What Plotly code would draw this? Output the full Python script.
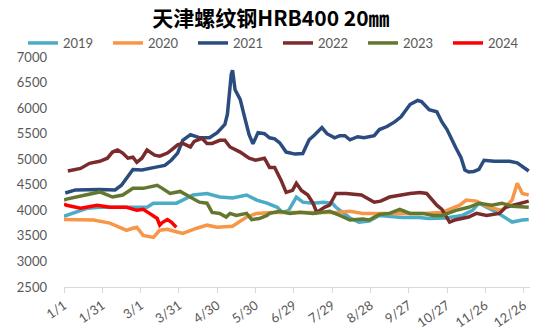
import plotly.graph_objects as go

# Day-of-year offsets (from 1/1) and prices (yuan/t) for each year
days_2019 = [0, 2, 18, 28, 54, 65, 70, 88, 93, 101, 112, 122, 132, 143, 151, 159, 167, 171, 176, 182, 187, 195, 203, 210, 213, 224, 231, 239, 247, 265, 278, 286, 299, 312, 320, 325, 339, 343, 351, 359, 364]
vals_2019 = [3880, 3900, 4040, 4060, 4060, 4060, 4140, 4140, 4200, 4300, 4330, 4260, 4240, 4300, 4200, 4140, 4060, 3960, 4000, 4260, 4160, 4140, 4160, 4140, 4060, 3850, 3770, 3790, 3900, 3860, 3860, 3840, 3850, 3900, 4000, 4140, 3960, 3900, 3770, 3810, 3820]

days_2020 = [0, 23, 36, 49, 54, 57, 62, 70, 75, 81, 85, 93, 104, 112, 120, 132, 143, 151, 163, 175, 187, 213, 224, 234, 247, 265, 281, 296, 310, 315, 323, 333, 343, 351, 355, 359, 364]
vals_2020 = [3820, 3810, 3750, 3610, 3650, 3670, 3510, 3470, 3610, 3630, 3600, 3550, 3650, 3710, 3670, 3690, 3870, 3940, 3960, 3960, 3950, 3960, 3980, 3940, 3940, 3940, 3940, 3960, 4100, 4200, 4180, 4060, 4000, 4200, 4530, 4330, 4300]

days_2021 = [1, 9, 28, 40, 45, 49, 54, 61, 69, 73, 79, 84, 89, 93, 99, 106, 114, 120, 126, 128, 131, 132, 134, 138, 142, 145, 148, 152, 157, 161, 165, 169, 174, 181, 187, 192, 196, 200, 202, 206, 212, 216, 220, 224, 230, 235, 243, 247, 253, 259, 264, 271, 277, 280, 282, 286, 292, 296, 300, 303, 307, 311, 314, 317, 321, 325, 329, 337, 349, 355, 360, 364]
vals_2021 = [4340, 4400, 4410, 4400, 4490, 4630, 4800, 4790, 4820, 4850, 4880, 4980, 5120, 5370, 5480, 5420, 5420, 5520, 5680, 5880, 6660, 6740, 6360, 6170, 5770, 5480, 5300, 5520, 5500, 5420, 5400, 5320, 5140, 5100, 5110, 5380, 5470, 5580, 5620, 5500, 5420, 5460, 5460, 5380, 5440, 5420, 5460, 5580, 5640, 5730, 5830, 6070, 6150, 6130, 6070, 5970, 5930, 5730, 5580, 5440, 5220, 5030, 4790, 4750, 4760, 4800, 4980, 4960, 4960, 4930, 4830, 4770]

days_2022 = [3, 13, 20, 28, 34, 38, 42, 46, 50, 54, 57, 61, 65, 67, 71, 75, 81, 84, 89, 93, 99, 102, 108, 112, 116, 122, 126, 130, 138, 145, 150, 157, 161, 165, 170, 174, 179, 182, 186, 191, 195, 198, 204, 208, 213, 221, 233, 243, 248, 255, 263, 271, 279, 284, 292, 296, 302, 306, 317, 323, 331, 341, 346, 359, 364]
vals_2022 = [4770, 4820, 4920, 4960, 5020, 5140, 5180, 5120, 5020, 5040, 4940, 5020, 5180, 5140, 5080, 5060, 5120, 5180, 5280, 5310, 5240, 5350, 5410, 5310, 5310, 5370, 5370, 5240, 5140, 5020, 4980, 5020, 4840, 4840, 4590, 4350, 4390, 4530, 4390, 4300, 4140, 3960, 4060, 4100, 4330, 4330, 4300, 4160, 4180, 4260, 4300, 4330, 4350, 4330, 4100, 4020, 3770, 3810, 3870, 3940, 3900, 3940, 4060, 4140, 4180]

days_2023 = [0, 2, 28, 38, 46, 54, 62, 73, 77, 83, 91, 99, 106, 112, 116, 122, 127, 130, 135, 143, 147, 153, 159, 161, 167, 169, 177, 185, 195, 208, 216, 224, 234, 239, 247, 255, 263, 271, 281, 289, 296, 307, 317, 325, 335, 343, 351, 364]
vals_2023 = [4200, 4220, 4360, 4260, 4300, 4430, 4430, 4490, 4430, 4330, 4370, 4260, 4160, 4140, 3960, 3940, 3870, 3940, 3900, 3940, 3820, 3840, 3900, 3940, 3960, 3980, 3940, 3960, 3940, 3980, 3900, 3810, 3830, 3810, 3920, 3940, 4020, 3940, 3940, 3900, 3900, 4000, 4060, 4140, 4100, 4140, 4080, 4060]

days_2024 = [0, 2, 13, 26, 36, 49, 57, 62, 67, 73, 75, 77, 81, 84, 88]
vals_2024 = [4120, 4100, 4040, 4100, 4060, 4060, 4000, 4020, 3940, 3840, 3710, 3760, 3820, 3770, 3670]

tick_days = [0, 30, 60, 90, 120, 150, 180, 210, 240, 270, 300, 330, 360]
tick_text = ["1/1", "1/31", "3/1", "3/31", "4/30", "5/30", "6/29", "7/29", "8/28", "9/27", "10/27", "11/26", "12/26"]
y_ticks = [2500, 3000, 3500, 4000, 4500, 5000, 5500, 6000, 6500, 7000]

series = [
    ("2019", days_2019, vals_2019, "#4BACC6"),
    ("2020", days_2020, vals_2020, "#F79646"),
    ("2021", days_2021, vals_2021, "#2B4C7E"),
    ("2022", days_2022, vals_2022, "#7A2B2B"),
    ("2023", days_2023, vals_2023, "#62782F"),
    ("2024", days_2024, vals_2024, "#FF0000"),
]

tick_font = dict(family="Lato, 'Liberation Sans', sans-serif", size=13, color="#595959")

fig = go.Figure()
legend_layout = {}
for i, (name, d, v, color) in enumerate(series):
    key = "legend" if i == 0 else f"legend{i + 1}"
    fig.add_trace(go.Scatter(x=d, y=v, name=name, mode="lines", legend=key,
                             line=dict(color=color, width=3.5)))
    # one legend box per year, laid out in a single row above the plot
    legend_layout[key] = dict(
        xref="container", x=(23 + 85 * i) / 553, xanchor="left",
        yref="container", y=1 - 43 / 331, yanchor="middle",
        font=tick_font, itemwidth=30, bgcolor="rgba(0,0,0,0)",
    )

fig.update_layout(
    width=553, height=331,
    margin=dict(l=64, r=23, t=57, b=44, autoexpand=False),
    paper_bgcolor="white", plot_bgcolor="white",
    title=dict(text="<b>天津螺纹钢HRB400 20㎜</b>", x=0.49, xanchor="center",
               y=1 - 19 / 331, yanchor="middle", yref="container",
               font=dict(family="Noto Sans CJK SC", size=21, color="black")),
    showlegend=True,
    **legend_layout,
)
fig.update_xaxes(range=[0, 365], tickmode="array", tickvals=tick_days, ticktext=tick_text,
                 tickangle=-35, tickfont=tick_font, showgrid=False, zeroline=False,
                 showline=True, linecolor="#D9D9D9", linewidth=1,
                 ticks="outside", tickcolor="#D9D9D9", ticklen=5)
fig.update_yaxes(range=[2500, 7000], tickmode="array", tickvals=y_ticks,
                 tickfont=tick_font, showgrid=False, zeroline=False, showline=False,
                 ticks="", ticklabelstandoff=16)

fig.write_html("out.html")
